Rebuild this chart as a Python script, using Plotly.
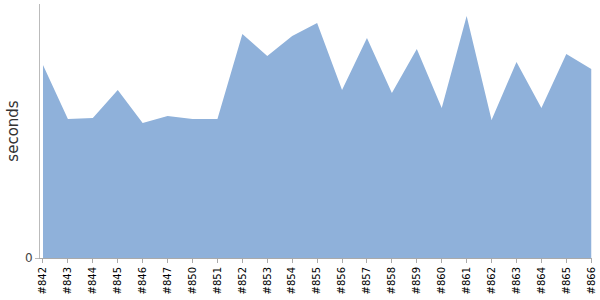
import plotly.graph_objects as go

builds = ["#842", "#843", "#844", "#845", "#846", "#847", "#850", "#851", "#852", "#853",
          "#854", "#855", "#856", "#857", "#858", "#859", "#860", "#861", "#862", "#863",
          "#864", "#865", "#866"]
seconds = [193, 139, 140, 168, 135, 142, 139, 139, 224, 202,
           222, 235, 168, 220, 165, 209, 150, 242, 138, 196,
           150, 204, 189]

fig = go.Figure()
fig.add_trace(go.Scatter(
    x=builds, y=seconds, mode="lines", fill="tozeroy",
    line=dict(color="rgba(143,177,218,1)", width=0),
    fillcolor="rgb(143,177,218)", hoverinfo="x+y"))

fig.update_layout(
    width=600, height=300,
    margin=dict(l=40, r=8, t=4, b=42),
    paper_bgcolor="white", plot_bgcolor="white",
    font=dict(family="DejaVu Sans", size=10, color="#000"),
    showlegend=False,
    xaxis=dict(type="category", range=[-0.12, 22.03], tickangle=-90,
               showline=True, linecolor="#aaa", linewidth=1,
               ticks="outside", ticklen=4, tickcolor="#aaa",
               showgrid=False, zeroline=False,
               tickfont=dict(family="DejaVu Sans", size=10, color="#000")),
    yaxis=dict(range=[0, 254], tickvals=[0], ticktext=["0"],
               showline=True, linecolor="#bbb", linewidth=1,
               ticks="outside", ticklen=4, tickcolor="#bbb",
               showgrid=False, zeroline=False,
               tickfont=dict(family="DejaVu Sans", size=12, color="#444"),
               title=dict(text="seconds", font=dict(family="DejaVu Sans", size=15, color="#333"),
                          standoff=2)),
)
fig.write_html("out.html")
